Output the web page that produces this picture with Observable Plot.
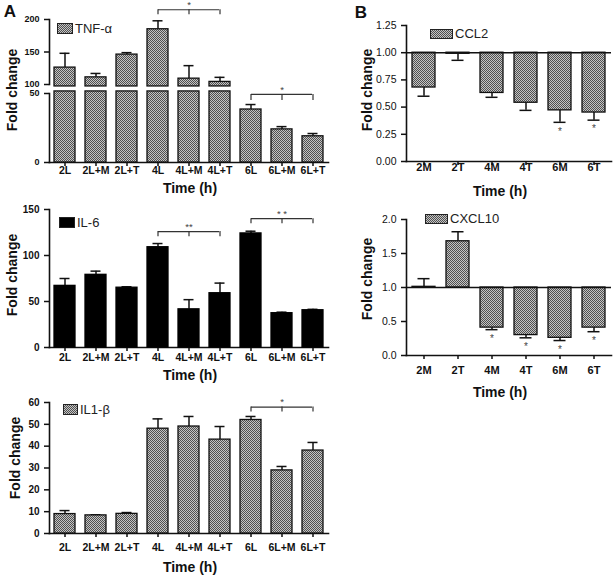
<!DOCTYPE html>
<html><head><meta charset="utf-8">
<script src="https://cdn.jsdelivr.net/npm/d3@7"></script>
<script src="https://cdn.jsdelivr.net/npm/@observablehq/plot@0.6"></script>
<style>
body{margin:0;background:#fff}
#fig{position:relative;width:613px;height:575px;font-family:Arial,"Liberation Sans",sans-serif;overflow:hidden;background:#fff;color:#111}
.leg{position:absolute;font-size:13px;line-height:13px;display:flex;align-items:center;white-space:nowrap;color:#222}
.sw{display:inline-block;border:1.5px solid #222;box-sizing:border-box;margin-right:2px}
.chk{background:repeating-conic-gradient(#505050 0 25%,#c4c4c4 0 50%) 0 0/2px 2px}
.lbl{position:absolute;font-weight:bold;white-space:nowrap;line-height:1}
</style></head>
<body>
<svg width="0" height="0" style="position:absolute"><defs><pattern id="chk" width="2" height="2" patternUnits="userSpaceOnUse"><rect width="2" height="2" fill="#c4c4c4"/><rect width="1" height="1" fill="#505050"/><rect x="1" y="1" width="1" height="1" fill="#505050"/></pattern></defs></svg>
<div id="fig"></div>
<script>
// ---------- data ----------
const aCats = ["2L","2L+M","2L+T","4L","4L+M","4L+T","6L","6L+M","6L+T"];
const tnfMean = [126, 111, 146, 185, 109, 104, 38.4, 24, 19];
const tnfErr  = [148, 117, 149, 198, 129, 111, 42, 26, 21];
const il6Mean = [67, 79, 65, 109, 41.5, 59, 124, 37.3, 40.5];
const il6Err  = [75, 83, 66, 113, 52, 70, 126.4, 38.4, 41.5];
const il1bMean = [8.9, 8.3, 9.0, 48, 49, 43, 52, 28.9, 38];
const il1bErr  = [10.5, 8.6, 9.6, 52.5, 53.6, 49, 53.6, 30.7, 41.7];

const bCats = ["2M","2T","4M","4T","6M","6T"];
const ccl2Mean = [0.68, 0.99, 0.63, 0.54, 0.47, 0.45];
const ccl2Err  = [0.60, 0.93, 0.59, 0.47, 0.36, 0.38];
const ccl2Sig  = ["", "", "", "", "*", "*"];
const cxclMean = [1.01, 1.68, 0.41, 0.30, 0.26, 0.41];
const cxclErr  = [1.13, 1.82, 0.38, 0.26, 0.22, 0.35];
const cxclSig  = ["", "", "*", "*", "*", "*"];

// significance brackets: from, middle, to, top value, foot value, label
const tnfBrFrom = ["4L", "6L"], tnfBrMid = ["4L+M", "6L+M"], tnfBrTo = ["4L+T", "6L+T"];
const tnfBrTop = [215, 49.3], tnfBrFoot = [207.5, 45], tnfBrLabel = ["*", "*"];
const il6BrFrom = ["4L", "6L"], il6BrMid = ["4L+M", "6L+M"], il6BrTo = ["4L+T", "6L+T"];
const il6BrTop = [126, 140], il6BrFoot = [120.5, 134.5], il6BrLabel = ["**", "* *"];
const il1bBrFrom = ["6L"], il1bBrMid = ["6L+M"], il1bBrTo = ["6L+T"];
const il1bBrTop = [57.9], il1bBrFoot = [55.6], il1bBrLabel = ["*"];

// ---------- helpers ----------
const W = 613, H = 575;
const FONT = "Arial, 'Liberation Sans', sans-serif";
const INK = "#111";
const fig = document.getElementById("fig");

const table = (cats, mean, err, sig) => cats.map((cat, i) => ({cat, mean: mean[i], err: err[i], sig: sig ? sig[i] : ""}));
const brackets = (from, mid, to, top, foot, label) => from.map((f, i) => ({from: f, mid: mid[i], to: to[i], top: top[i], foot: foot[i], label: label[i]}));

const aX = {left: 49, right: 328, cats: aCats, pi: 0.31, po: 0.03};
const halfBandA = d3.scaleBand().domain(aCats).range([aX.left, aX.right]).paddingInner(aX.pi).paddingOuter(aX.po).bandwidth() / 2;

function bracketMarks(br) {
  const feet = br.flatMap(b => [b.from, b.mid, b.to].map(x => ({x, top: b.top, foot: b.foot})));
  return [
    Plot.ruleY(br, {y: "top", x1: "from", x2: "to", insetLeft: halfBandA, insetRight: halfBandA, stroke: "#333", strokeWidth: 1.2}),
    Plot.ruleX(feet, {x: "x", y1: "top", y2: "foot", stroke: "#333", strokeWidth: 1.2}),
    Plot.text(br, {x: "mid", y: "top", text: "label", dy: -5, fontSize: 9.5, fill: "#444"})
  ];
}

function errMarks(data, filter) {
  return [
    Plot.ruleX(data, {filter, x: "cat", y1: "mean", y2: "err", stroke: INK, strokeWidth: 1.5}),
    Plot.tickY(data, {filter, x: "cat", y: "err", insetLeft: 5.5, insetRight: 5.5, stroke: INK, strokeWidth: 1.5})
  ];
}

function panel({left, right, top, bottom, cats, pi, po, domain, marks}) {
  const svg = Plot.plot({
    width: W, height: H,
    marginLeft: left, marginRight: W - right, marginTop: top, marginBottom: H - bottom,
    style: {position: "absolute", left: "0px", top: "0px", background: "transparent", overflow: "visible", fontFamily: FONT, color: INK},
    x: {type: "band", domain: cats, paddingInner: pi, paddingOuter: po, axis: null},
    y: {domain, axis: null},
    marks
  });
  fig.appendChild(svg);
}

const yAxisA = (ticks, fs = 10) => Plot.axisY({ticks, tickSize: 5, tickPadding: 5, fontSize: fs, fontWeight: "bold", label: null, stroke: INK, strokeWidth: 1.5});
const xAxisA = (pad) => Plot.axisX({tickSize: 4, tickPadding: pad, fontSize: 10.5, fontWeight: "bold", label: null, stroke: INK, strokeWidth: 1.5});
const lineL = Plot.frame({anchor: "left", stroke: INK, strokeWidth: 1.6});
const lineB = Plot.frame({anchor: "bottom", stroke: INK, strokeWidth: 1.6});

const barStyle = {fill: "url(#chk)", stroke: INK, strokeWidth: 1.3};

// ---------- Panel A: TNF-alpha (broken axis) ----------
const tnf = table(aCats, tnfMean, tnfErr);
const tnfBr = brackets(tnfBrFrom, tnfBrMid, tnfBrTo, tnfBrTop, tnfBrFoot, tnfBrLabel);

panel({...aX, top: 19, bottom: 84, domain: [100, 200], marks: [
  lineL,
  yAxisA([100, 150, 200], 9),
  ...errMarks(tnf, d => d.mean > 100),
  Plot.barY(tnf, {filter: d => d.mean > 100, x: "cat", y1: 97, y2: "mean", ...barStyle}),
  ...bracketMarks(tnfBr.filter(b => b.top > 100))
]});
panel({...aX, top: 93, bottom: 162, domain: [0, 50], marks: [
  lineL, lineB,
  yAxisA([0, 50], 9),
  xAxisA(0),
  ...errMarks(tnf, d => d.mean < 50),
  Plot.barY(tnf, {x: "cat", y1: 0, y2: d => Math.min(d.mean, 51.5), ...barStyle}),
  ...bracketMarks(tnfBr.filter(b => b.top < 100))
]});

// ---------- Panel A: IL-6 ----------
const il6 = table(aCats, il6Mean, il6Err);
panel({...aX, top: 209, bottom: 347, domain: [0, 150], marks: [
  lineL, lineB,
  yAxisA([0, 50, 100, 150]),
  xAxisA(2),
  ...errMarks(il6),
  Plot.barY(il6, {x: "cat", y1: 0, y2: "mean", fill: "#000", stroke: "#000", strokeWidth: 1.3}),
  ...bracketMarks(brackets(il6BrFrom, il6BrMid, il6BrTo, il6BrTop, il6BrFoot, il6BrLabel))
]});

// ---------- Panel A: IL1-beta ----------
const il1b = table(aCats, il1bMean, il1bErr);
panel({...aX, top: 402, bottom: 533, domain: [0, 60], marks: [
  lineL, lineB,
  yAxisA([0, 10, 20, 30, 40, 50, 60]),
  xAxisA(6),
  ...errMarks(il1b),
  Plot.barY(il1b, {x: "cat", y1: 0, y2: "mean", ...barStyle}),
  ...bracketMarks(brackets(il1bBrFrom, il1bBrMid, il1bBrTo, il1bBrTop, il1bBrFoot, il1bBrLabel))
]});

// ---------- Panel B ----------
const bX = {left: 406, right: 611, cats: bCats, pi: 0.335, po: 0.13};
const yAxisB = (ticks, fmt) => Plot.axisY({ticks, tickFormat: fmt, tickSize: 5, tickPadding: 5, fontSize: 10.5, label: null, stroke: INK, strokeWidth: 1.5});
const xAxisB = (pad) => Plot.axisX({tickSize: 4, tickPadding: pad, fontSize: 11, fontWeight: "bold", label: null, stroke: INK, strokeWidth: 1.5});

const ccl2 = table(bCats, ccl2Mean, ccl2Err, ccl2Sig);
panel({...bX, top: 25, bottom: 161, domain: [0, 1.25], marks: [
  lineL, lineB,
  yAxisB([0, 0.25, 0.5, 0.75, 1, 1.25], d3.format(".2f")),
  xAxisB(-2),
  ...errMarks(ccl2),
  Plot.barY(ccl2, {x: "cat", y1: 1, y2: "mean", ...barStyle}),
  Plot.ruleY([1], {stroke: INK, strokeWidth: 1.6}),
  Plot.text(ccl2, {x: "cat", y: "err", text: "sig", dy: 9, fontSize: 10, fill: "#444"})
]});

const cxcl = table(bCats, cxclMean, cxclErr, cxclSig);
panel({...bX, top: 219, bottom: 355, domain: [0, 2], marks: [
  lineL, lineB,
  yAxisB([0, 0.5, 1, 1.5, 2], d3.format(".1f")),
  xAxisB(7),
  ...errMarks(cxcl),
  Plot.barY(cxcl, {x: "cat", y1: 1, y2: "mean", ...barStyle}),
  Plot.ruleY([1], {stroke: INK, strokeWidth: 1.6}),
  Plot.text(cxcl, {x: "cat", y: "err", text: "sig", dy: 9, fontSize: 10, fill: "#444"})
]});

// ---------- labels & legends ----------
function label(text, cx, cy, size, rot) {
  const d = document.createElement("div");
  d.className = "lbl";
  d.textContent = text;
  d.style.left = cx + "px"; d.style.top = cy + "px"; d.style.fontSize = size + "px";
  d.style.transform = "translate(-50%,-50%)" + (rot ? " rotate(-90deg)" : "");
  fig.appendChild(d);
}
label("A", 10, 11, 17);
label("B", 361, 12, 17);
[[12, 90], [12, 275], [15, 458], [367, 90], [367, 279]].forEach(([x, y]) => label("Fold change", x, y, 14, true));
[[190, 188], [190, 375], [190, 567], [500, 191], [500, 392]].forEach(([x, y]) => label("Time (h)", x, y, 14));

function legend(text, x, y, w, h, cls) {
  const d = document.createElement("div");
  d.className = "leg";
  d.style.left = x + "px"; d.style.top = y + "px";
  const s = document.createElement("span");
  s.className = "sw " + cls;
  s.style.width = w + "px"; s.style.height = h + "px";
  if (cls === "solid") s.style.background = "#000";
  d.appendChild(s);
  d.appendChild(document.createTextNode(text));
  fig.appendChild(d);
}
legend("TNF-α", 57, 22, 16, 11, "chk");
legend("IL-6", 59, 216, 16, 11, "solid");
legend("IL1-β", 63, 403, 15, 11, "chk");
legend("CCL2", 430, 27, 23, 10, "chk");
legend("CXCL10", 425, 212, 23, 10, "chk");
</script>
</body></html>
